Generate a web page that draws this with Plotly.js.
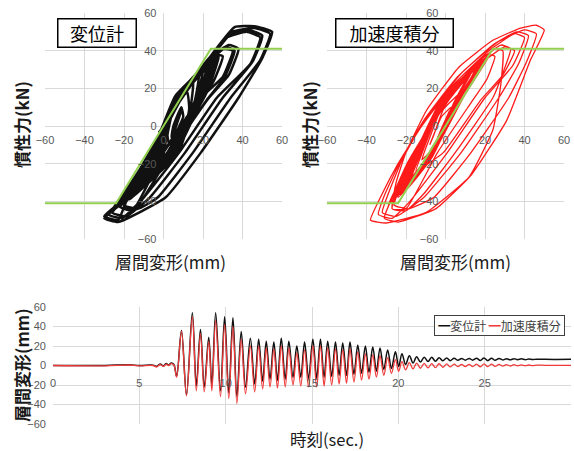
<!DOCTYPE html>
<html>
<head>
<meta charset="utf-8">
<script src="https://cdn.plot.ly/plotly-3.0.1.min.js"></script>
<style>html,body{margin:0;padding:0;background:#fff;}#chart{width:574px;height:451px;}</style>
</head>
<body>
<div id="chart"></div>
<script>
// ---- Data ----
const seriesNames = ['変位計', '加速度積分'];
const greenDisp = [-60, -24, 24, 60];
const greenForce = [-41, -41, 41, 41];

// Hysteresis path: [displacement mm, force kN]
const gaugeLoop = [
[0,0],[3,4],[-2,-3],[4,5],[-5,-10],[-11,-22],
[3,-14],[22,14],[31,26],[36,40],
[31,42],[20,31],[7,11],[-8,-19],[-20,-40],[-30,-49],
[-23,-51],[1,-38],[19,-14],[38,15],[50,36],[55,50],
[46,53],[36,52.5],[21,33],[7.6,12],[-9.3,-21.6],[-18,-38],[-22,-43],
[-15,-45],[4,-14],[23,15],[33,27],[38,41],
[33,43],[19,30],[6,10],[-8,-18],[-17,-36],[-22,-43],
[-15,-44],[0,-14],[19,15],[25,23],[30,37],
[25,38],[17,28],[5,9],[-7,-17],[-15,-35],[-20,-42],
[-13,-44],[-3,-38],[15,-14],[34,15],[49,35],[54,49],
[46,52],[35,50],[21,32],[7,11],[-10,-21],[-21,-40],[-26,-46],
[-19,-48],[-7,-38],[11,-14],[30,15],[45,34],[50,48],
[43,51],[33,48],[20,31],[6,10],[-11,-22],[-23,-42],[-28,-47],
[-21,-49],[-10,-38],[8,-14],[27,15],[44,33],[49,47],
[42,50],[32,47],[19,30],[5,9],[-12,-23],[-25,-43],[-30,-48],
[-23,-50],[-18,-38],[0,-14],[19,15],[30,26],[35,40],
[30,41],[18,29],[4,8],[-9,-19],[-18,-37],[-22,-42],
[-5,-21],[20,18],[28,36],
[10,18],[-10,-20],[-19,-40],
[-1,-20],[21,18],[27,36],
[10,18],[-9,-20],[-16,-38],
[1,-19],[20,17],[25,35],
[9,17],[-7,-18],[-14,-36],
[2,-18],[19,17],[24,34],
[8,17],[-8,-18],[-15,-37],
[2,-18],[22,18],[28,37],
[11,18],[-7,-18],[-14,-36],
[-1,-19],[19,17],[26,36],[8,17],[-8,-19],[-17,-39],
[0,-19],[18,17],[25,35],[7,17],[-8,-19],[-16,-38],
[1,-18],[18,17],[26,36],[8,17],[-7,-18],[-15,-37],
[2,-18],[20,17],[27,37],[9,17],[-6,-18],[-14,-36],
[3,-17],[19,17],[25,35],[8,16],[-5,-17],[-13,-35],
[1,-18],[17,16],[23,33],[6,16],[-7,-18],[-15,-37],
[3,-18],[21,18],[28,37],[10,18],[-6,-18],[-14,-36],
[3,-18],[20,17],[25,35],
[9,17],[-6,-17],[-12,-34],
[4,-17],[17,15],[20,31],
[6,15],[-6,-17],[-12,-34],
[4,-17],[19,17],[24,34],
[8,17],[-7,-17],[-13,-35],
[4,-17],[21,18],[27,36],
[10,18],[-5,-17],[-12,-34],
[5,-17],[21,18],[27,36],
[10,18],[-5,-16],[-11,-33],
[5,-16],[20,17],[25,35],
[9,17],[-4,-16],[-10,-32],
[6,-16],[19,17],[24,34],
[8,17],[-3,-15],[-9,-31],
[6,-15],[18,16],[22,32],
[7,16],[-2,-14],[-7,-29],
[7,-14],[17,15],[20,30],
[7,15],[-1,-13],[-5,-27],
[8,-13],[16,14],[18,28],
[6,14],[0,-12],[-3,-24],
[8,-12],[14,12],[15,24],
[5,12],[1,-9],[0,-18],
[9,-9],[13,9],[12,18],
[5,9],[2,-5],[3,-10],
[10,5],[9,10],[5,0],[4,-6],[9,8],[5,-4],[8,6],[5.5,-3],[7.5,4],[6,-1],[7,1.5],[6.3,0]
];

// Hysteresis path: [displacement mm, force kN]
const accelLoop = [
[0,0],[3,4],[-2,-3],[3,5],[-6,-10],[-12,-22],
[-1,-14],[18,14],[29,27],[35,40],
[30,42],[14,30],[-3,8],[-18,-18],[-27,-38],[-31,-49],
[-24,-51],[-5,-44],[13,-26],[31,3],[43,35],[50,51],
[46,53.5],[38,52],[24,45.5],[7,31.5],[-9.5,8.5],[-20,-14],[-25,-30],[-27,-44],
[-20,-45],[-11,-36],[5,-14],[24,15],[29,28],[33,41],
[28,43],[13,31],[-3,9],[-18,-19],[-25,-36],[-27,-44],
[-20,-44],[-4,-14],[14,14],[21,25],[25,37],
[21,38],[10,26],[-4,5],[-18,-20],[-24,-35],[-26,-42],
[-19,-44],[-6,-38],[13,-14],[32,15],[41,34],[46,49],
[40,51],[27,45],[8,28],[-10,4],[-22,-18],[-29,-36],[-32,-46],
[-25,-48],[-11,-38],[8,-14],[27,15],[37,33],[42,48],
[36,50],[24,43],[6,26],[-11,3],[-23,-19],[-31,-37],[-34,-47],
[-27,-49],[-18,-40],[1,-14],[20,15],[34,32],[40,47],
[35,49],[22,40],[4,22],[-12,0],[-24,-20],[-33,-38],[-38,-50],
[-30,-51.5],[-10,-46],[12,-27],[24,-2],[28,22],[29,40],
[25,41],[12,27],[-5,5],[-19,-19],[-26,-35],[-29,-42],
[-11,-19],[10,17],[21,36],
[3,17],[-18,-19],[-27,-40],
[-10,-18],[10,17],[21,36],
[2,17],[-17,-18],[-24,-38],
[-9,-18],[9,17],[19,35],
[1,17],[-16,-18],[-22,-36],
[-8,-18],[8,16],[17,34],
[0,16],[-16,-18],[-23,-37],
[-8,-18],[10,17],[21,37],
[2,17],[-16,-18],[-22,-36],
[-9,-19],[8,17],[19,35],[0,17],[-17,-19],[-26,-39],
[-10,-19],[9,17],[20,36],[1,17],[-16,-18],[-24,-37],
[-8,-18],[7,16],[18,34],[-1,16],[-17,-18],[-25,-38],
[-9,-18],[9,17],[21,36],[1,17],[-15,-18],[-23,-37],
[-7,-17],[8,16],[19,35],[0,16],[-16,-17],[-24,-38],
[-8,-18],[10,17],[22,37],[2,17],[-16,-18],[-22,-36],
[-8,-18],[9,17],[19,35],
[1,17],[-15,-17],[-20,-34],
[-7,-17],[6,15],[14,31],
[-1,15],[-15,-17],[-21,-34],
[-8,-17],[8,16],[17,34],
[1,16],[-16,-17],[-22,-35],
[-8,-17],[10,17],[21,36],
[2,17],[-15,-17],[-22,-34],
[-8,-17],[10,17],[21,36],
[2,17],[-15,-16],[-21,-33],
[-7,-16],[9,17],[19,35],
[1,17],[-14,-16],[-20,-32],
[-7,-16],[8,16],[18,34],
[0,16],[-14,-15],[-19,-31],
[-6,-15],[8,16],[17,32],
[0,15],[-13,-14],[-18,-29],
[-6,-14],[6,15],[14,30],
[-1,14],[-12,-13],[-17,-27],
[-5,-13],[5,14],[12,28],
[-1,13],[-11,-12],[-15,-24],
[-5,-12],[4,12],[10,24],
[-1,12],[-9,-9],[-12,-18],
[-4,-9],[3,9],[8,18],
[-1,9],[-6,-5],[-8,-10],
[-2,5],[3,10],[-1,0],[-4,-6],[2,8],[-3,-4],[2,6],[-2,-3],[1,4],[-1,-1],[0.5,1.5],[0,0]
];

// Time history: [time s, 変位計 mm, 加速度積分 mm]
const timeHistory = [
[0,0,0],[3,0,-0.3],[4.4,0.8,0.5],[5,0,-0.3],[5.8,0.3,0],[6,-1,-1.5],[6.2,1.5,1],[6.4,-0.5,-1],[6.55,2,1.5],[6.7,0.5,0],[6.85,2.5,2],[7,1,0.5],
[7.16,-11,-12],[7.44,36,35],[7.73,-30,-31],[8.07,54,50],[8.3,-21,-26],[8.54,37,33],[8.76,-22,-27],[9.02,29,25],[9.2,-20,-26],[9.42,54,46],[9.7,-26,-32],[9.94,50,42],[10.18,-28,-34],[10.42,49,40],[10.65,-32,-39],[10.9,35,27],[11.15,-22,-29],[11.43,28,20],[11.68,-19,-27],[11.91,27,20],[12.14,-16,-24],[12.35,25,18],[12.57,-14,-22],[12.79,24,17],[13,-15,-23],[13.22,28,20],[13.45,-14,-22],[13.66,25,18],[13.9,-12,-20],[14.12,20,13],[14.35,-12,-21],[14.57,24,16],[14.8,-13,-22],[15.05,27,20],[15.27,-13,-22],[15.49,27,20],[15.7,-12,-21],[15.91,25,18],[16.14,-11,-20],[16.36,24,17],[16.57,-10,-19],[16.78,23,16],[17,-10,-18],[17.2,24,17],[17.43,-9,-17],[17.65,21,14],[17.87,-8,-15],[18.09,20,12],[18.3,-7,-14],[18.52,19,11],[18.73,-6,-12],[18.94,18,10],[19.16,-4,-10],[19.38,16,8],[19.6,-3,-8],[19.83,14,6],[20.02,-1,-6],[20.21,12,4],[20.42,1,-4.5],[20.64,10,3],[20.85,2.5,-3.5],[21.06,9,2.5],[21.28,3.5,-2.8],[21.5,8.5,2.2],[21.72,4,-2.5],[21.93,8.5,2],[22.15,4.3,-2.2],[22.36,8,1.8],[22.58,4.8,-1.8],[22.8,7.8,1.7],[23,5,-1.5],[23.23,7.5,1.4],[23.45,5.3,-1.2],[23.66,7.3,1.2],[23.88,5.5,-1],[24.1,7.3,1.2],[24.31,5.5,-1.1],[24.53,7.5,1.4],[24.75,5.2,-1.3],[24.96,7.8,1.6],[25.18,5,-1.2],[25.4,7.5,1.4],[25.6,5.4,-0.9],[25.83,7.2,1.1],[26.05,5.7,-0.6],[26.26,7,0.9],[26.48,5.8,-0.5],[26.7,7,0.8],[26.9,6,-0.3],[27.13,6.8,0.6],[27.35,6,-0.2],[27.56,6.6,0.5],[27.78,6.1,-0.1],[28,6.5,0.4],[28.5,6.3,0.2],[30,6.3,0.2]
];

const hystTicks = [-60, -40, -20, 0, 20, 40, 60];
const timeTicks = [0, 5, 10, 15, 20, 25, 30];

// ---- Styles ----
const W = 574, H = 451;
const px = v => v / W;
const py = v => 1 - v / H;
const JP = '"Noto Sans CJK JP", "Noto Sans", sans-serif';
const NUM = '"Liberation Sans", "Noto Sans", sans-serif';
const gridC = '#d9d9d9';
const tickF = {family: NUM, size: 11, color: '#595959'};
const BLACK = '#111111';
const RED = '#ff1a1a';
const GREEN = '#92d050';

const traces = [
  {x: gaugeLoop.map(p => p[0]), y: gaugeLoop.map(p => p[1]), xaxis: 'x', yaxis: 'y', mode: 'lines',
   name: seriesNames[0], line: {color: BLACK, width: 2.5, shape: 'spline', smoothing: 0.4}, hoverinfo: 'skip'},
  {x: greenDisp, y: greenForce, xaxis: 'x', yaxis: 'y', mode: 'lines', line: {color: GREEN, width: 2}, hoverinfo: 'skip'},
  {x: accelLoop.map(p => p[0]), y: accelLoop.map(p => p[1]), xaxis: 'x2', yaxis: 'y2', mode: 'lines',
   name: seriesNames[1], line: {color: RED, width: 1.3, shape: 'spline', smoothing: 0.4}, hoverinfo: 'skip'},
  {x: greenDisp, y: greenForce, xaxis: 'x2', yaxis: 'y2', mode: 'lines', line: {color: GREEN, width: 2}, hoverinfo: 'skip'},
  {x: timeHistory.map(r => r[0]), y: timeHistory.map(r => r[1]), xaxis: 'x3', yaxis: 'y3', mode: 'lines',
   name: seriesNames[0], line: {color: BLACK, width: 1.5, shape: 'spline', smoothing: 1}},
  {x: timeHistory.map(r => r[0]), y: timeHistory.map(r => r[2]), xaxis: 'x3', yaxis: 'y3', mode: 'lines',
   name: seriesNames[1], line: {color: '#f03a3a', width: 1.3, shape: 'spline', smoothing: 1}}
];

const hystAxis = (dom, pos, standoff) => ({
  domain: dom, range: [-60, 60], tickvals: hystTicks, showgrid: true, gridcolor: gridC, gridwidth: 1,
  zeroline: false, showline: false, ticks: '', tickfont: tickF, anchor: 'free', position: pos,
  ticklabelstandoff: standoff, fixedrange: true
});

const topYDom = [py(239), py(13)];
const xZeroTop = py(126);

const ann = (text, x, y, extra) => Object.assign({
  text: text, x: px(x), y: py(y), xref: 'paper', yref: 'paper', xanchor: 'center', yanchor: 'middle',
  showarrow: false
}, extra);

const layout = {
  width: W, height: H, margin: {l: 0, r: 0, t: 0, b: 0},
  paper_bgcolor: '#fff', plot_bgcolor: '#fff', showlegend: false,
  font: {family: JP},
  xaxis: hystAxis([px(45), px(282)], xZeroTop, 6),
  yaxis: hystAxis(topYDom, px(163.5), 7),
  xaxis2: hystAxis([px(327), px(564)], xZeroTop, 6),
  yaxis2: hystAxis(topYDom, px(445.5), 7),
  xaxis3: {domain: [px(53), px(571)], range: [0, 30], tickvals: timeTicks, showgrid: true, gridcolor: gridC,
           zeroline: false, showline: false, ticks: '', tickfont: tickF, anchor: 'free', position: py(365.5),
           ticklabelstandoff: 9},
  yaxis3: {domain: [py(424), py(307)], range: [-60, 60], tickvals: hystTicks, showgrid: true, gridcolor: gridC,
           zeroline: false, showline: false, ticks: '', tickfont: tickF, anchor: 'x3', ticklabelstandoff: 6},
  annotations: [
    ann('慣性力(kN)', 22, 125, {textangle: -90, font: {family: JP, size: 17, color: '#1a1a1a', weight: 'bold'}}),
    ann('慣性力(kN)', 310, 125, {textangle: -90, font: {family: JP, size: 17, color: '#1a1a1a', weight: 'bold'}}),
    ann('層間変形(mm)', 170, 261, {font: {family: JP, size: 17, color: '#1a1a1a'}}),
    ann('層間変形(mm)', 455, 261, {font: {family: JP, size: 17, color: '#1a1a1a'}}),
    ann('層間変形(mm)', 21, 365, {textangle: -90, font: {family: JP, size: 17, color: '#1a1a1a', weight: 'bold'}}),
    ann('時刻(sec.)', 327, 439, {font: {family: JP, size: 16.5, color: '#1a1a1a'}}),
    ann(seriesNames[0], 97, 33, {width: 77, height: 27, borderpad: 0, bordercolor: '#000', borderwidth: 1.5,
        bgcolor: '#fff', font: {family: JP, size: 18, color: '#000'}}),
    ann(seriesNames[1], 394.5, 33, {width: 116, height: 27, borderpad: 0, bordercolor: '#000', borderwidth: 1.5,
        bgcolor: '#fff', font: {family: JP, size: 18, color: '#000'}}),
    ann('<span style="color:#111">━</span>' + seriesNames[0] + ' <span style="color:#f03a3a">━</span>' + seriesNames[1],
        499, 325, {width: 129, height: 19, borderpad: 0, bordercolor: '#404040', borderwidth: 1, bgcolor: '#fff',
        font: {family: JP, size: 12, color: '#404040'}})
  ]
};

Plotly.newPlot('chart', traces, layout, {staticPlot: true, displayModeBar: false});
</script>
</body>
</html>
